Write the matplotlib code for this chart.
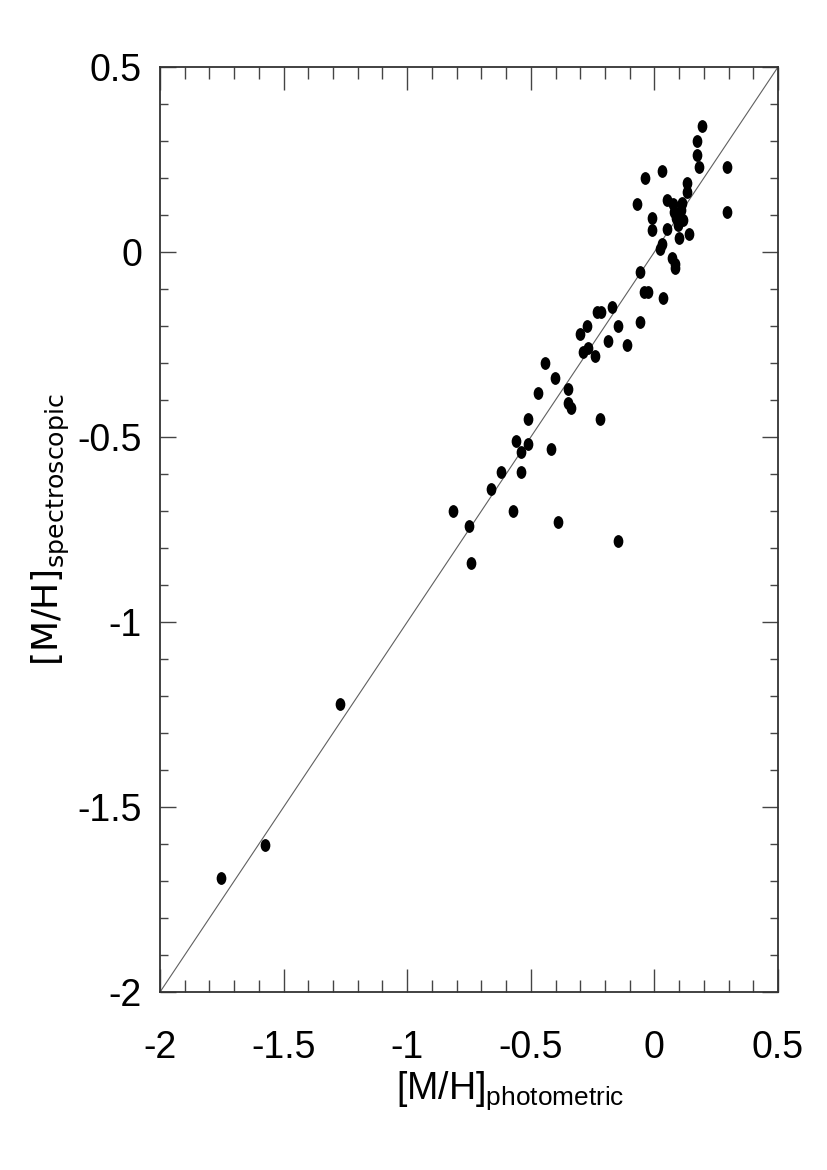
#!/usr/bin/env python3

import matplotlib
matplotlib.use('Agg')
import matplotlib.pyplot as plt
import numpy as np
from matplotlib.path import Path
from matplotlib.ticker import MultipleLocator, FixedLocator, FixedFormatter

#################################################
### Data
#################################################

# [M/H] photometric vs spectroscopic
mh_photometric = [
    0.191, 0.172, 0.172, 0.182, 0.292, -0.039, 0.032, 0.132, 0.132, -0.069,
    0.051, 0.074, 0.112, 0.079, 0.108, 0.087, 0.117, 0.097, -0.010, -0.010,
    0.050, 0.141, 0.101, 0.292, 0.031, 0.021, 0.073, 0.085, 0.082, -0.058,
    -0.042, -0.026, 0.036, -0.233, -0.216, -0.170, -0.058, -0.271, -0.148, -0.300,
    -0.188, -0.110, -0.288, -0.270, -0.239, -0.441, -0.401, -0.350, -0.470, -0.350,
    -0.339, -0.510, -0.220, -0.560, -0.510, -0.538, -0.420, -0.622, -0.540, -0.662,
    -0.814, -0.571, -0.751, -0.390, -0.148, -0.742, -1.272, -1.575, -1.754,
]
mh_spectroscopic = [
    0.341, 0.300, 0.262, 0.229, 0.229, 0.200, 0.219, 0.186, 0.162, 0.129,
    0.141, 0.129, 0.132, 0.108, 0.114, 0.091, 0.086, 0.073, 0.091, 0.059,
    0.061, 0.050, 0.039, 0.109, 0.022, 0.007, -0.017, -0.031, -0.044, -0.054,
    -0.107, -0.107, -0.124, -0.161, -0.161, -0.149, -0.190, -0.200, -0.200, -0.222,
    -0.240, -0.251, -0.269, -0.260, -0.280, -0.301, -0.341, -0.369, -0.380, -0.409,
    -0.421, -0.452, -0.452, -0.511, -0.520, -0.541, -0.531, -0.595, -0.595, -0.641,
    -0.700, -0.700, -0.741, -0.730, -0.780, -0.841, -1.222, -1.603, -1.691,
]

# one-to-one line
line_ends = [-2.0, 0.5]

tick_values = [-2.0, -1.5, -1.0, -0.5, 0.0, 0.5]
tick_labels = ['-2', '-1.5', '-1', '-0.5', '0', '0.5']

#################################################
### Plotting
#################################################

plt.rcParams['font.family'] = ['Liberation Sans', 'DejaVu Sans']
plt.rcParams['mathtext.fontset'] = 'custom'
plt.rcParams['mathtext.rm'] = 'Liberation Sans'
plt.rcParams['axes.unicode_minus'] = False

fig = plt.figure(figsize=(8.27, 11.70), dpi=100)
ax = fig.add_axes([0.1935, 0.1521, 0.7472, 0.7906])

# slightly taller than wide dots, like the stretched original
circle = Path.unit_circle()
dot = Path(circle.vertices * np.array([0.73, 1.0]), circle.codes)

ax.plot(line_ends, line_ends, color='#606060', linewidth=0.8, zorder=1)
ax.plot(mh_photometric, mh_spectroscopic, linestyle='none', marker=dot,
        markersize=8.2, color='black', zorder=2)

ax.set_xlim(-2, 0.5)
ax.set_ylim(-2, 0.5)

for side in ['left', 'right', 'top', 'bottom']:
    ax.spines[side].set_color('#333333')
    ax.spines[side].set_linewidth(1.3)

ax.xaxis.set_major_locator(FixedLocator(tick_values))
ax.xaxis.set_major_formatter(FixedFormatter(tick_labels))
ax.yaxis.set_major_locator(FixedLocator(tick_values))
ax.yaxis.set_major_formatter(FixedFormatter(tick_labels))
ax.xaxis.set_minor_locator(MultipleLocator(0.1))
ax.yaxis.set_minor_locator(MultipleLocator(0.1))

ax.tick_params(axis='both', which='both', direction='in', top=True, right=True,
               color='#444444', width=1.0, labelsize=27)
ax.tick_params(axis='x', which='major', length=16.5, pad=27)
ax.tick_params(axis='x', which='minor', length=8.6)
ax.tick_params(axis='y', which='major', length=11.5, pad=13)
ax.tick_params(axis='y', which='minor', length=5.8)

ax.set_xlabel(r'[M/H]$_{\mathrm{photometric}}$', fontsize=27,
              math_fontfamily='custom')
ax.xaxis.set_label_coords(0.566, -0.083)

ax.set_ylabel(r'[M/H]$_{\mathrm{spectroscopic}}$', fontsize=26,
              family='DejaVu Sans', math_fontfamily='dejavusans')
ax.yaxis.set_label_coords(-0.142, 0.5)

fig.savefig('out.png', dpi=100)
